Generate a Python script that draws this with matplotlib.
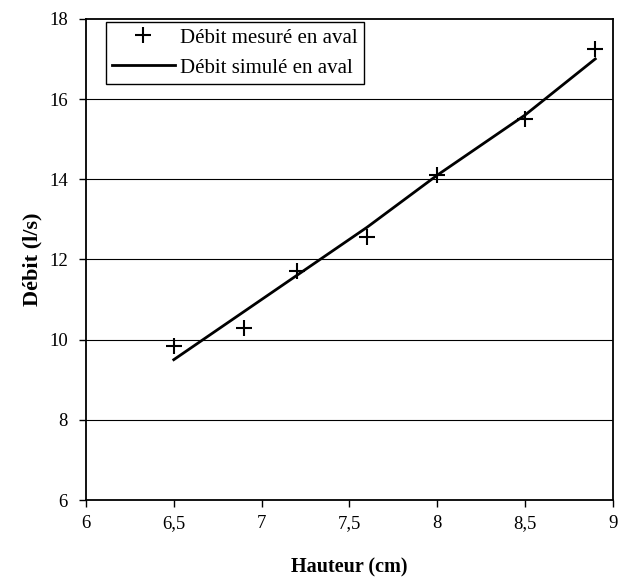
import matplotlib
matplotlib.use('Agg')
import matplotlib.pyplot as plt
from matplotlib.lines import Line2D

plt.rcParams['font.family'] = ['Liberation Serif', 'DejaVu Serif']

# données
hauteur = [6.5, 6.9, 7.2, 7.6, 8.0, 8.5, 8.9]
debit_mesure = [9.85, 10.3, 11.7, 12.55, 14.1, 15.5, 17.25]
debit_simule = [9.5, 10.7, 11.6, 12.8, 14.1, 15.6, 17.0]

x_ticks = [6, 6.5, 7, 7.5, 8, 8.5, 9]
x_labels = ['6', '6,5', '7', '7,5', '8', '8,5', '9']
y_ticks = [6, 8, 10, 12, 14, 16, 18]

fig = plt.figure(figsize=(6.34, 5.77), dpi=100)
ax = fig.add_axes([0.1356, 0.1334, 0.831, 0.834])

for y in y_ticks[1:-1]:
    ax.axhline(y, color='black', linewidth=0.8, zorder=1)

ax.plot(hauteur, debit_simule, color='black', linewidth=2.0, zorder=2)
ax.plot(hauteur, debit_mesure, linestyle='none', marker='+', markersize=11,
        markeredgewidth=1.5, color='black', zorder=3)

ax.set_xlim(6, 9)
ax.set_ylim(6, 18)
ax.set_xticks(x_ticks)
ax.set_xticklabels(x_labels)
ax.set_yticks(y_ticks)
ax.tick_params(axis='both', labelsize=13.5, direction='out', length=5, width=1)
ax.tick_params(axis='x', pad=6)
ax.tick_params(axis='y', pad=8)
for s in ax.spines.values():
    s.set_linewidth(1.3)

ax.set_xlabel('Hauteur (cm)', fontsize=14.5, fontweight='bold', labelpad=18)
ax.set_ylabel('Débit (l/s)', fontsize=16, fontweight='bold', labelpad=5)

handles = [
    Line2D([], [], linestyle='none', marker='+', markersize=11, markeredgewidth=1.5, color='black'),
    Line2D([], [], color='black', linewidth=2.0),
]
leg = ax.legend(handles, ['Débit mesuré en aval', 'Débit simulé en aval'],
                loc='upper left', bbox_to_anchor=(0.038, 0.994), fontsize=15,
                frameon=True, fancybox=False, edgecolor='black', framealpha=1,
                handlelength=3.0, handletextpad=0.25, borderpad=0.3,
                labelspacing=0.5, borderaxespad=0)
leg.get_frame().set_linewidth(1.0)

fig.savefig('out.png', dpi=100, facecolor='white')
